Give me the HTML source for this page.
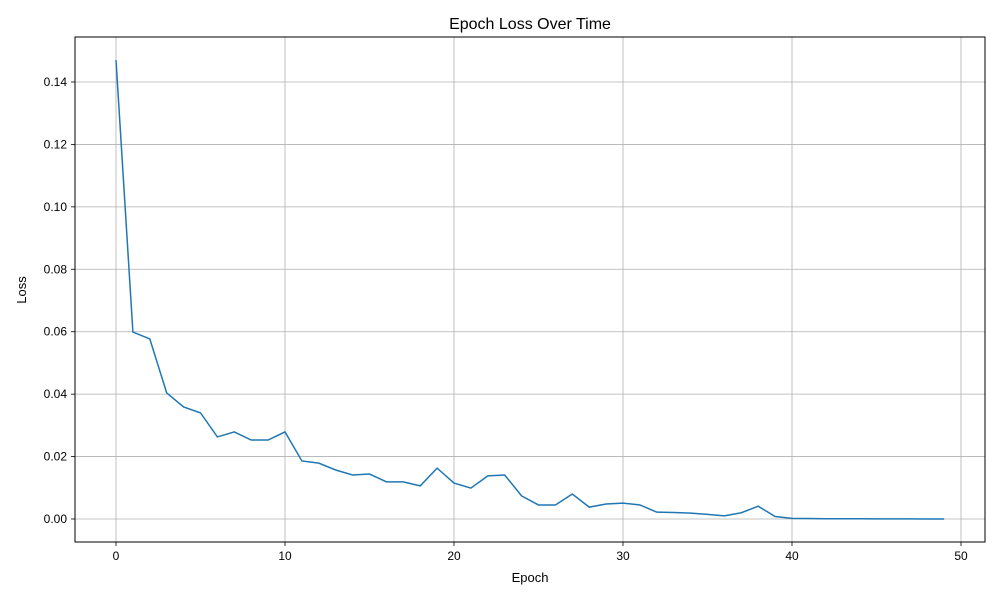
<!DOCTYPE html>
<html><head><meta charset="utf-8"><style>
html,body{margin:0;padding:0;background:#fff;}
svg text{font-family:"Liberation Sans","DejaVu Sans",sans-serif;fill:#000;}
</style></head><body>
<svg id="chart" width="1000" height="600" xmlns="http://www.w3.org/2000/svg">
<rect width="1000" height="600" fill="#fff"/>
<g id="grid"></g>
<g id="axes"></g>
<path id="line" fill="none" stroke="#1f77b4" stroke-width="1.5"/>
<rect x="75" y="37" width="910" height="505" fill="none" stroke="#000" stroke-width="1"/>
<text x="530" y="29" font-size="16" text-anchor="middle">Epoch Loss Over Time</text>
<text x="530" y="582" font-size="13" text-anchor="middle">Epoch</text>
<text x="26" y="290" font-size="13" text-anchor="middle" transform="rotate(-90 26 290)">Loss</text>
</svg>
<script>
const lossValues = [0.147,0.0599,0.0577,0.0404,0.0359,0.034,0.0263,0.0279,0.0253,0.0253,0.0279,0.0186,0.0179,0.0157,0.0141,0.0144,0.0119,0.0119,0.0106,0.0163,0.0115,0.0099,0.0138,0.0141,0.0074,0.0045,0.0045,0.008,0.0038,0.0048,0.0051,0.0045,0.0022,0.0021,0.0019,0.0015,0.001,0.002,0.0041,0.0008,0.0002,0.00015,0.0001,0.00008,0.00006,0.00005,0.00004,0.00003,0.00002,0.00001];
const xTicks = [0,10,20,30,40,50];
const yTicks = [0,0.02,0.04,0.06,0.08,0.10,0.12,0.14];
const yTickLabels = ["0.00","0.02","0.04","0.06","0.08","0.10","0.12","0.14"];
const L=75,R=985,T=37,B=542;
function xs(v){return 116+(v-0)*(961-116)/50;}
function ys(v){return 519-v*(519-82)/0.14;}
const NS="http://www.w3.org/2000/svg";
const grid=document.getElementById('grid'), axes=document.getElementById('axes');
function mk(tag,attrs,parent){const e=document.createElementNS(NS,tag);for(const k in attrs)e.setAttribute(k,attrs[k]);parent.appendChild(e);return e;}
xTicks.forEach(t=>{
  const x=xs(t);
  const g=mk('line',{x1:x,x2:x,y1:T,y2:B,stroke:'#b0b0b0','stroke-width':0.8},grid);
  
  
  const tk=mk('line',{x1:x,x2:x,y1:B,y2:B+4,stroke:'#000','stroke-width':0.8},axes);
  
  
  const lb=mk('text',{x:x,y:B+18,'font-size':12,'text-anchor':'middle'},axes);
  lb.textContent=String(t);
  
  
});
yTicks.forEach((t,i)=>{
  const y=ys(t);
  const g=mk('line',{x1:L,x2:R,y1:y,y2:y,stroke:'#b0b0b0','stroke-width':0.8},grid);
  
  
  const tk=mk('line',{x1:L-4,x2:L,y1:y,y2:y,stroke:'#000','stroke-width':0.8},axes);
  
  
  const lb=mk('text',{x:L-8,y:y+4,'font-size':12,'text-anchor':'end'},axes);
  lb.textContent=yTickLabels[i];
  
  
});
document.getElementById('line').setAttribute('d',lossValues.map((v,i)=>(i?'L':'M')+xs(i).toFixed(2)+','+ys(v).toFixed(2)).join(''));
</script>
</body></html>
